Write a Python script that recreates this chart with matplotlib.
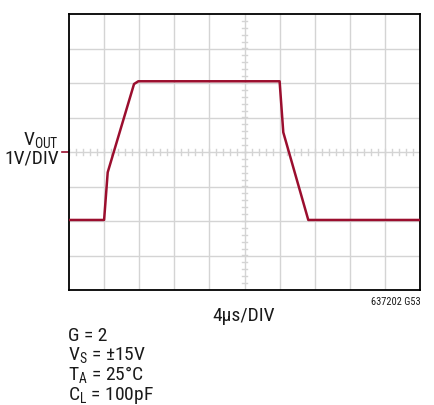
import matplotlib
matplotlib.use("Agg")
import matplotlib.pyplot as plt
import numpy as np

plt.rcParams['font.family'] = ['Roboto Condensed', 'Liberation Sans', 'DejaVu Sans']

# Data (time in µs, voltage in V relative to centre)
time_us = [0, 4.0, 4.41, 7.41, 7.9, 8.4, 24.0, 24.42, 27.27, 40]
vout = [-1.97, -1.97, -0.59, 1.97, 2.05, 2.05, 2.05, 0.57, -1.97, -1.97]

x_div, y_div = 4.0, 1.0
n_x, n_y = 10, 8
trace_color = '#9B0E2E'
grid_color = '#d4d4d4'

fig = plt.figure(figsize=(4.34, 4.06), dpi=100)
ax = fig.add_axes([69/434, 1-291/406, 351/434, 276/406])
ax.set_xlim(0, n_x * x_div)
ax.set_ylim(-n_y/2 * y_div, n_y/2 * y_div)

# grid
for gx in np.arange(1, n_x) * x_div:
    ax.axvline(gx, color=grid_color, lw=1.0, zorder=1)
for gy in (np.arange(1, n_y) - n_y/2) * y_div:
    ax.axhline(gy, color=grid_color, lw=1.0, zorder=1)

# minor ticks on centre lines
xc = n_x/2 * x_div
for tx in np.arange(0, n_x * x_div, x_div/5):
    ax.plot([tx, tx], [-0.075, 0.075], color=grid_color, lw=1.0, zorder=1)
for ty in np.arange(-n_y/2, n_y/2, 0.2) * y_div:
    ax.plot([xc-0.3, xc+0.3], [ty, ty], color=grid_color, lw=1.0, zorder=1)

ax.plot(time_us, vout, color=trace_color, lw=1.8, zorder=3, solid_joinstyle='round')

# red marker at the zero level, left of the axis
ax.plot([-0.8, -0.1], [0, 0], color=trace_color, lw=1.2, clip_on=False)

ax.set_xticks([])
ax.set_yticks([])
for s in ax.spines.values():
    s.set_linewidth(1.3)
    s.set_color('black')

fs = 14
tc = '#1a1a1a'
def fx(px):
    return px / 434
def fy(py):
    return 1 - py / 406

fig.text(fx(59), fy(146), r'V$_\mathregular{OUT}$', ha='right', va='baseline', fontsize=fs, color=tc)
fig.text(fx(59), fy(164), '1V/DIV', ha='right', va='baseline', fontsize=fs, color=tc)
fig.text(fx(244), fy(321), '4µs/DIV', ha='center', va='baseline', fontsize=fs, color=tc)
fig.text(fx(421), fy(305), '637202 G53', ha='right', va='baseline', fontsize=7.5, color=tc)

lines = ['G = 2', r'V$_\mathregular{S}$ = ±15V', r'T$_\mathregular{A}$ = 25°C', r'C$_\mathregular{L}$ = 100pF']
base = [341, 361, 381, 400]
for t, b in zip(lines, base):
    fig.text(fx(68), fy(b), t, ha='left', va='baseline', fontsize=fs, color=tc)

fig.savefig('out.png', dpi=100)
